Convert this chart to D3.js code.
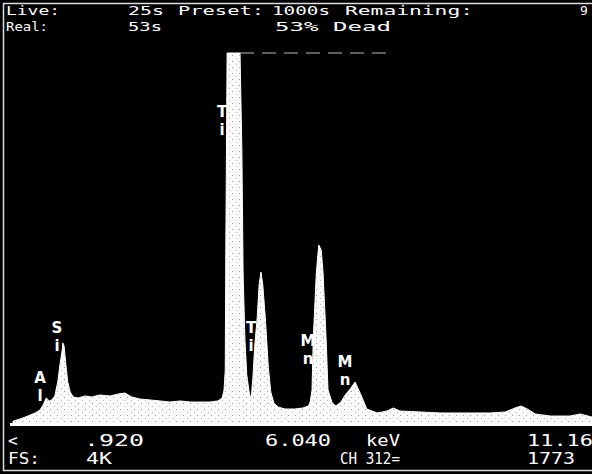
<!DOCTYPE html>
<html>
<head>
<meta charset="utf-8">
<script src="https://cdn.jsdelivr.net/npm/d3@7"></script>
<style>
  html, body { margin: 0; padding: 0; background: #000; }
  svg { display: block; }
  .hud { fill: #fff; font-family: "DejaVu Sans Mono", monospace; font-size: 16px; }
  .hud.top { font-size: 13px; }
  .peak { fill: #fff; font-family: "DejaVu Sans", sans-serif; font-weight: bold; font-size: 15px; text-anchor: middle; }
</style>
</head>
<body>
<div id="chartTarget"></div>
<script>
// spectrum: energy (keV) and counts
const energyKeV = [0.92, 1.03, 1.12, 1.20, 1.28, 1.36, 1.41, 1.46, 1.51, 1.55, 1.60, 1.65, 1.68, 1.72, 1.73, 1.75,
  1.78, 1.81, 1.85, 1.90, 1.98, 2.09, 2.20, 2.33, 2.50, 2.63, 2.74, 2.85, 2.98, 3.15, 3.31, 3.47, 3.64, 3.80,
  3.96, 4.12, 4.25, 4.32, 4.35, 4.37, 4.38, 4.40, 4.51, 4.61, 4.64, 4.66, 4.69, 4.72, 4.76, 4.79, 4.82, 4.85,
  4.89, 4.92, 4.95, 4.98, 5.02, 5.07, 5.11, 5.16, 5.23, 5.34, 5.50, 5.63, 5.72, 5.75, 5.78, 5.80, 5.85, 5.89,
  5.93, 5.96, 6.01, 6.04, 6.11, 6.17, 6.25, 6.32, 6.40, 6.48, 6.54, 6.59, 6.67, 6.84, 7.00, 7.10, 7.21, 7.54,
  7.86, 8.35, 8.67, 8.92, 9.08, 9.18, 9.28, 9.41, 9.65, 9.97, 10.14, 10.33, 10.70, 11.16];
const counts = [20, 44, 66, 89, 111, 144, 199, 277, 244, 255, 299, 465, 631, 808, 886, 852,
  642, 454, 343, 288, 277, 299, 288, 310, 299, 321, 332, 288, 266, 255, 244, 232, 244, 232,
  232, 232, 244, 277, 365, 587, 2026, 4096, 4096, 4096, 3022, 1661, 919, 531, 332, 260, 509, 863,
  1173, 1528, 1671, 1528, 1173, 620, 343, 221, 177, 155, 155, 166, 188, 232, 365, 919, 1661, 1970,
  1915, 1661, 919, 365, 221, 188, 232, 310, 376, 454, 365, 288, 155, 111, 133, 166, 133, 122,
  111, 111, 111, 122, 166, 188, 155, 100, 77, 77, 100, 66, 60, 60];

// peak markers (element, keV, counts at top of the label)
const peakNames = ["Al", "Si", "Ti", "Ti", "Mn", "Mn"];
const peakKeV = [1.36, 1.635, 4.32, 4.79, 5.715, 6.317];
const peakTop = [565, 1120, 3510, 1120, 975, 740];

// status lines
const liveText = ["Live:", "25s", "Preset:", "1000s", "Remaining:", "9"];
const realText = ["Real:", "53s", "53% Dead"];
const scaleLabels = [".920", "6.040", "11.16"];
const cursorText = ["keV", "CH 312=", "1773"];
const fullScale = ["<", "FS:", "4K"];

function drawChart() {
  let width = 592;
  let height = 474;
  let minKeV = 0.92;
  let maxKeV = 11.16;
  let fs = 4096;
  let plot = {left: 13, right: 643, top: 53, base: 423};

  let data = energyKeV.map((e, i) => ({e: e, c: counts[i]}));

  let x = d3.scaleLinear()
    .domain([minKeV, maxKeV])
    .range([plot.left, plot.right]);

  let y = d3.scaleLinear()
    .domain([0, fs])
    .range([plot.base, plot.top])
    .clamp(true);

  let svg = d3.select('#chartTarget').append('svg')
    .attr('width', width)
    .attr('height', height);

  svg.append('rect')
    .attr('width', width)
    .attr('height', height)
    .attr('fill', '#000');

  // dithered fill like the CRT photo
  let pat = svg.append('defs').append('pattern')
    .attr('id', 'dither')
    .attr('width', 7)
    .attr('height', 6)
    .attr('patternUnits', 'userSpaceOnUse');
  pat.append('rect').attr('width', 7).attr('height', 6).attr('fill', '#fafafa');
  pat.append('rect').attr('x', 1).attr('y', 1).attr('width', 1).attr('height', 1).attr('fill', '#999');
  pat.append('rect').attr('x', 5).attr('y', 4).attr('width', 1).attr('height', 1).attr('fill', '#bbb');

  // frame
  svg.append('path')
    .attr('d', `M${width + 2},3.5 H3.5 V470.5 H${width + 2}`)
    .attr('fill', 'none')
    .attr('stroke', '#ddd')
    .attr('stroke-width', 1.5);

  let area = d3.area()
    .x(d => x(d.e))
    .y0(y(0) + 2)
    .y1(d => y(d.c))
    .curve(d3.curveLinear);

  svg.append('path')
    .datum(data)
    .attr('d', area)
    .attr('fill', 'url(#dither)')
    .attr('stroke', '#fff')
    .attr('stroke-width', 1);

  svg.append('line')
    .attr('x1', x(minKeV) - 3).attr('x2', x(maxKeV))
    .attr('y1', y(0) + 1.5).attr('y2', y(0) + 1.5)
    .attr('stroke', '#fff')
    .attr('stroke-width', 3);

  // full scale marker
  svg.append('line')
    .attr('x1', x(4.61)).attr('x2', x(7.0))
    .attr('y1', y(fs)).attr('y2', y(fs))
    .attr('stroke', '#bbb')
    .attr('stroke-width', 1)
    .attr('stroke-dasharray', '14,8');

  // stacked element labels
  peakNames.forEach((name, i) => {
    let g = svg.append('g');
    name.split('').forEach((ch, j) => {
      g.append('text')
        .attr('class', 'peak')
        .attr('x', x(peakKeV[i]))
        .attr('y', y(peakTop[i]) + 11 + j * 18)
        .text(ch);
    });
  });

  // status text
  const put = (t, px, py, len, cls) => {
    let el = svg.append('text')
      .attr('class', cls || 'hud')
      .attr('x', px)
      .attr('y', py)
      .text(t);
    if (len) el.attr('textLength', len).attr('lengthAdjust', 'spacingAndGlyphs');
  };

  put(liveText[0], 6, 15, 54, 'hud top');
  put(liveText[1], 128, 15, 36, 'hud top');
  put(liveText[2], 178, 15, 86, 'hud top');
  put(liveText[3], 272, 15, 58, 'hud top');
  put(liveText[4], 345, 15, 128, 'hud top');
  put(liveText[5], 580, 15, null, 'hud top');
  put(realText[0], 6, 31, 42, 'hud top');
  put(realText[1], 128, 31, 34, 'hud top');
  put(realText[2], 275, 31, 116, 'hud top');

  put(fullScale[0], 8, 446);
  put(scaleLabels[0], 84, 446, 60);
  put(scaleLabels[1], 265, 446, 66);
  put(cursorText[0], 366, 446, 34);
  put(scaleLabels[2], 527, 446, 66);
  put(fullScale[1], 8, 464, 32);
  put(fullScale[2], 86, 464, 26);
  put(cursorText[1], 340, 464, 60);
  put(cursorText[2], 527, 464, 48);
}

drawChart();
</script>
</body>
</html>
